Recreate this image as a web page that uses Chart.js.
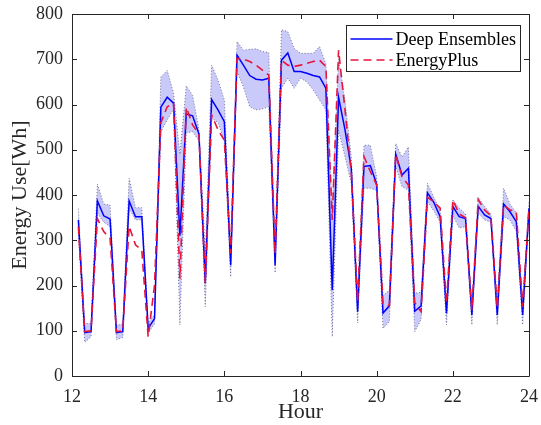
<!DOCTYPE html>
<html>
<head>
<meta charset="utf-8">
<script src="https://cdn.jsdelivr.net/npm/chart.js@4.4.1/dist/chart.umd.min.js"></script>
<style>
  html, body { margin: 0; padding: 0; background: #ffffff; }
  #wrap { width: 541px; height: 425px; position: relative; }
</style>
</head>
<body>
<div id="wrap"><canvas id="c" width="541" height="425"></canvas></div>
<script>
// ---- Data (10-minute steps, 12:10 .. 24:00) ----
const hours = [
  12.1667,12.3333,12.5,12.6667,12.8333,13.0,13.1667,13.3333,13.5,13.6667,13.8333,14.0,
  14.1667,14.3333,14.5,14.6667,14.8333,15.0,15.1667,15.3333,15.5,15.6667,15.8333,16.0,
  16.1667,16.3333,16.5,16.6667,16.8333,17.0,17.1667,17.3333,17.5,17.6667,17.8333,18.0,
  18.1667,18.3333,18.5,18.6667,18.8333,19.0,19.1667,19.3333,19.5,19.6667,19.8333,20.0,
  20.1667,20.3333,20.5,20.6667,20.8333,21.0,21.1667,21.3333,21.5,21.6667,21.8333,22.0,
  22.1667,22.3333,22.5,22.6667,22.8333,23.0,23.1667,23.3333,23.5,23.6667,23.8333,24.0
];
const deepEnsembles = [
  345,96,98,387,354,347,96,98,387,352,352,105,
  127,594,616,603,310,579,575,535,205,611,588,562,
  245,709,687,664,656,654,658,245,698,714,673,673,
  669,664,661,636,190,616,545,459,142,463,465,424,
  139,155,490,444,459,143,155,405,384,352,139,375,
  352,348,135,375,356,348,135,380,363,341,135,370
];
const energyPlus = [
  330,98,100,348,319,304,98,100,331,290,278,87,
  200,560,595,603,215,594,555,535,205,577,544,521,
  271,702,700,695,687,676,665,270,698,687,684,687,
  691,695,698,684,345,720,590,450,165,485,452,422,
  160,155,490,440,422,162,142,395,385,371,160,389,
  358,350,146,390,367,354,150,378,367,363,153,371
];
const bandLower = [
  318,74,87,360,340,330,80,85,370,345,345,95,
  115,540,566,590,113,537,540,520,153,570,560,520,
  219,673,639,595,588,590,595,228,636,658,636,658,
  650,632,610,588,87,543,485,426,117,415,415,410,
  105,120,463,418,411,98,125,385,365,340,113,355,
  327,330,113,360,345,340,113,352,345,320,113,355
];
const bandUpper = [
  370,116,116,424,380,378,112,115,437,372,372,118,
  135,661,675,625,490,641,620,545,270,687,654,610,
  280,739,720,722,723,717,715,280,765,761,724,713,
  713,713,728,690,367,700,610,484,170,510,510,440,
  178,190,514,484,506,183,185,426,395,365,168,390,
  371,358,160,395,375,358,165,415,380,360,165,385
];
const xTicks = [12,14,16,18,20,22,24];
const yTicks = [0,100,200,300,400,500,600,700,800];
const legendLabels = ['Deep Ensembles','EnergyPlus'];

const toXY = arr => arr.map((v,i) => ({x: hours[i], y: v}));
const SERIF = '"Liberation Serif", "Times New Roman", serif';
const AXIS_COLOR = '#262626';
const BAND_COLOR = 'rgb(202,202,250)';

// fills the region between the band datasets using the library's computed point positions
const bandFillPlugin = {
  id: 'bandFill',
  beforeDatasetsDraw(chart) {
    const lo = chart.getDatasetMeta(0).data;
    const up = chart.getDatasetMeta(1).data;
    if (!lo.length || !up.length) return;
    const {ctx, chartArea: a} = chart;
    ctx.save();
    ctx.beginPath();
    ctx.rect(a.left, a.top, a.right - a.left, a.bottom - a.top);
    ctx.clip();
    ctx.beginPath();
    up.forEach((p, i) => i ? ctx.lineTo(p.x, p.y) : ctx.moveTo(p.x, p.y));
    for (let i = lo.length - 1; i >= 0; i--) ctx.lineTo(lo[i].x, lo[i].y);
    ctx.closePath();
    ctx.fillStyle = BAND_COLOR;
    ctx.fill();
    ctx.restore();
  }
};

const boxTicksPlugin = {
  id: 'boxTicks',
  afterDatasetsDraw(chart) {
    const {ctx, chartArea: a, scales: {x, y}} = chart;
    ctx.save();
    ctx.strokeStyle = AXIS_COLOR;
    ctx.lineWidth = 1;
    ctx.beginPath();
    ctx.rect(a.left + 0.5, a.top + 0.5, a.right - a.left, a.bottom - a.top);
    ctx.stroke();
    const L = 5;
    ctx.beginPath();
    xTicks.forEach(t => {
      const px = Math.round(x.getPixelForValue(t)) + 0.5;
      ctx.moveTo(px, a.bottom); ctx.lineTo(px, a.bottom - L);
      ctx.moveTo(px, a.top); ctx.lineTo(px, a.top + L);
    });
    yTicks.forEach(t => {
      const py = Math.round(y.getPixelForValue(t)) + 0.5;
      ctx.moveTo(a.left, py); ctx.lineTo(a.left + L, py);
      ctx.moveTo(a.right, py); ctx.lineTo(a.right - L, py);
    });
    ctx.stroke();
    ctx.restore();
  },
  afterDraw(chart) {
    const {ctx} = chart;
    const bx = 346.5, by = 25.5, bw = 174, bh = 46;
    ctx.save();
    ctx.fillStyle = '#ffffff';
    ctx.fillRect(bx, by, bw, bh);
    ctx.strokeStyle = '#262626';
    ctx.lineWidth = 1;
    ctx.strokeRect(bx, by, bw, bh);
    const ds = chart.data.datasets;
    const rows = [
      {y: by + 13.5, color: ds[3].borderColor, dash: []},
      {y: by + 34.5, color: ds[2].borderColor, dash: [8,5]}
    ];
    ctx.font = '18px ' + SERIF;
    ctx.textBaseline = 'middle';
    ctx.textAlign = 'left';
    rows.forEach((r, i) => {
      ctx.strokeStyle = r.color;
      ctx.lineWidth = 1.5;
      ctx.setLineDash(r.dash);
      ctx.beginPath();
      ctx.moveTo(bx + 4, r.y); ctx.lineTo(bx + 46, r.y);
      ctx.stroke();
      ctx.setLineDash([]);
      ctx.fillStyle = '#000000';
      ctx.fillText(legendLabels[i], bx + 49, r.y + 1);
    });
    ctx.restore();
  }
};

new Chart(document.getElementById('c'), {
  type: 'line',
  data: {
    datasets: [
      {
        label: 'lower', data: toXY(bandLower),
        borderColor: '#55557a', borderWidth: 0.8, borderDash: [1,2],
        pointRadius: 0, fill: false, order: 3, tension: 0
      },
      {
        label: 'upper', data: toXY(bandUpper),
        borderColor: '#55557a', borderWidth: 0.8, borderDash: [1,2],
        pointRadius: 0, fill: false, order: 2, tension: 0
      },
      {
        label: legendLabels[1], data: toXY(energyPlus),
        borderColor: '#e8143c', borderWidth: 1.6, borderDash: [8,5],
        pointRadius: 0, fill: false, order: 0, tension: 0
      },
      {
        label: legendLabels[0], data: toXY(deepEnsembles),
        borderColor: '#0000ff', borderWidth: 1.5,
        pointRadius: 0, fill: false, order: 1, tension: 0
      }
    ]
  },
  options: {
    responsive: false,
    animation: false,
    layout: { padding: { top: 14, right: 12, left: 0, bottom: 0 } },
    plugins: { legend: { display: false }, tooltip: { enabled: false } },
    scales: {
      x: {
        type: 'linear', min: 12, max: 24,
        afterBuildTicks: s => { s.ticks = xTicks.map(v => ({value: v})); },
        afterFit: s => { s.height = 49; s.paddingLeft = 0; s.paddingRight = 0; },
        grid: { display: false, drawTicks: false },
        border: { display: false },
        ticks: { color: AXIS_COLOR, padding: 10, maxRotation: 0, font: { family: SERIF, size: 18 } },
        title: { display: true, text: 'Hour', color: AXIS_COLOR, padding: { top: 0, bottom: 0 },
                 font: { family: SERIF, size: 22 } }
      },
      y: {
        type: 'linear', min: 0, max: 800,
        afterBuildTicks: s => { s.ticks = yTicks.map(v => ({value: v})); },
        afterFit: s => { s.width = 72; s.paddingTop = 0; s.paddingBottom = 0; },
        grid: { display: false, drawTicks: false },
        border: { display: false },
        ticks: { color: AXIS_COLOR, padding: 9, font: { family: SERIF, size: 18 } },
        title: { display: true, text: 'Energy Use[Wh]', color: AXIS_COLOR, padding: { top: 7, bottom: 0 },
                 font: { family: SERIF, size: 22 } }
      }
    }
  },
  plugins: [bandFillPlugin, boxTicksPlugin]
});
</script>
</body>
</html>
